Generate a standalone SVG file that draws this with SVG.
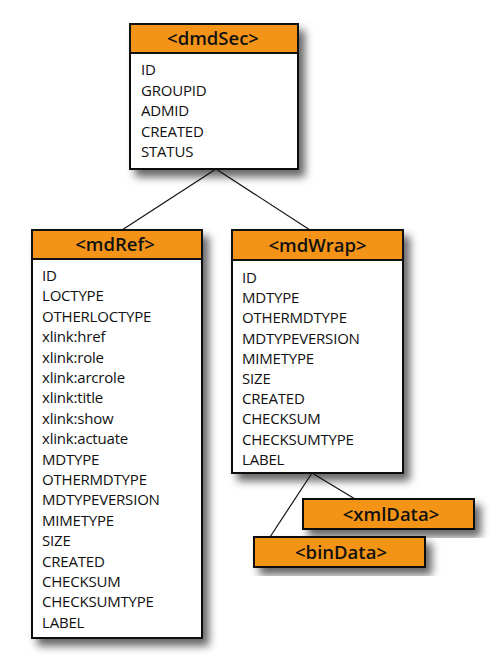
<svg xmlns="http://www.w3.org/2000/svg" width="496" height="657" viewBox="0 0 496 657">
<defs>
<filter id="sh" x="-20%" y="-20%" width="150%" height="150%">
<feDropShadow dx="6" dy="7" stdDeviation="4" flood-color="#000" flood-opacity="0.6"/>
</filter>
<style>
.box{fill:#fff;stroke:#111;stroke-width:2}
.hd{fill:#F39419;stroke:#111;stroke-width:2}
.t{font-family:"Open Sans","Liberation Sans",sans-serif;font-size:15px;fill:#111;letter-spacing:-0.2px}
.h{font-family:"Open Sans","Liberation Sans",sans-serif;font-size:18.5px;font-weight:600;fill:#111;text-anchor:middle}
.c{stroke:#111;stroke-width:1.2;fill:none}
</style>
</defs>
<rect width="496" height="657" fill="#fff"/>
<g id="dmdSec">
<g filter="url(#sh)"><rect class="box" x="130" y="24" width="168" height="145"/></g>
<rect class="hd" x="130" y="24" width="168" height="29"/>
<text class="h" x="213" y="45">&lt;dmdSec&gt;</text>
<text class="t" x="141" y="75">ID</text>
<text class="t" x="141" y="95.5">GROUPID</text>
<text class="t" x="141" y="116">ADMID</text>
<text class="t" x="141" y="136.5">CREATED</text>
<text class="t" x="141" y="157">STATUS</text>
</g>
<g id="mdRef">
<g filter="url(#sh)"><rect class="box" x="32" y="230" width="170" height="408"/></g>
<rect class="hd" x="32" y="230" width="170" height="29"/>
<text class="h" x="115" y="251">&lt;mdRef&gt;</text>
<text class="t" x="42" y="281">ID</text>
<text class="t" x="42" y="301.4">LOCTYPE</text>
<text class="t" x="42" y="321.8">OTHERLOCTYPE</text>
<text class="t" x="42" y="342.2">xlink:href</text>
<text class="t" x="42" y="362.6">xlink:role</text>
<text class="t" x="42" y="383">xlink:arcrole</text>
<text class="t" x="42" y="403.4">xlink:title</text>
<text class="t" x="42" y="423.8">xlink:show</text>
<text class="t" x="42" y="444.2">xlink:actuate</text>
<text class="t" x="42" y="464.6">MDTYPE</text>
<text class="t" x="42" y="485">OTHERMDTYPE</text>
<text class="t" x="42" y="505.4">MDTYPEVERSION</text>
<text class="t" x="42" y="525.8">MIMETYPE</text>
<text class="t" x="42" y="546.2">SIZE</text>
<text class="t" x="42" y="566.6">CREATED</text>
<text class="t" x="42" y="587">CHECKSUM</text>
<text class="t" x="42" y="607.4">CHECKSUMTYPE</text>
<text class="t" x="42" y="627.8">LABEL</text>
</g>
<g id="mdWrap">
<g filter="url(#sh)"><rect class="box" x="232" y="230" width="171" height="243"/></g>
<rect class="hd" x="232" y="230" width="171" height="30"/>
<text class="h" x="317.5" y="251.5">&lt;mdWrap&gt;</text>
<text class="t" x="242" y="283">ID</text>
<text class="t" x="242" y="303.2">MDTYPE</text>
<text class="t" x="242" y="323.4">OTHERMDTYPE</text>
<text class="t" x="242" y="343.6">MDTYPEVERSION</text>
<text class="t" x="242" y="363.8">MIMETYPE</text>
<text class="t" x="242" y="384">SIZE</text>
<text class="t" x="242" y="404.2">CREATED</text>
<text class="t" x="242" y="424.4">CHECKSUM</text>
<text class="t" x="242" y="444.6">CHECKSUMTYPE</text>
<text class="t" x="242" y="464.8">LABEL</text>
</g>
<g id="xmlData">
<g filter="url(#sh)"><rect class="hd" x="303" y="499" width="171" height="30"/></g>
<text class="h" x="391" y="520.5">&lt;xmlData&gt;</text>
</g>
<g id="binData">
<g filter="url(#sh)"><rect class="hd" x="254" y="537" width="171" height="30"/></g>
<text class="h" x="341" y="558.5">&lt;binData&gt;</text>
</g>
<g id="connectors">
<line class="c" x1="216" y1="169" x2="122" y2="230"/>
<line class="c" x1="216" y1="169" x2="310" y2="230"/>
<line class="c" x1="312" y1="473" x2="270" y2="537"/>
<line class="c" x1="312" y1="473" x2="355" y2="499"/>
</g>
</svg>
